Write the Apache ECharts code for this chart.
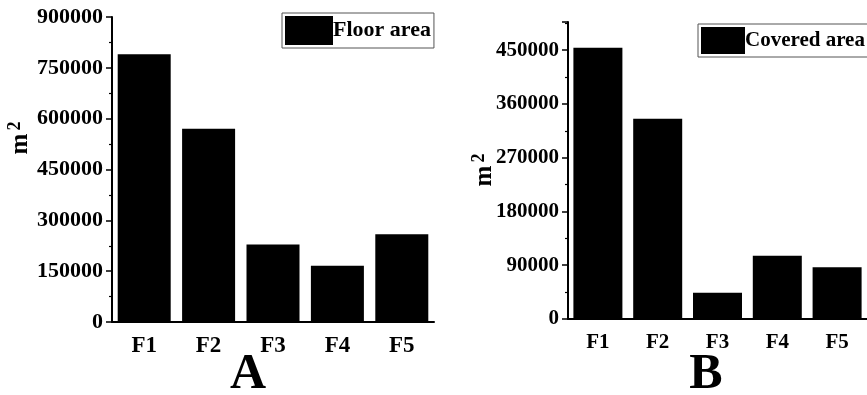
<!DOCTYPE html>
<html>
<head>
<meta charset="utf-8">
<script src="https://cdn.jsdelivr.net/npm/echarts@6/dist/echarts.min.js"></script>
<style>html,body{margin:0;padding:0;background:#fff}#c{width:867px;height:395px}</style>
</head>
<body>
<div id="c"></div>
<script>
var categories = ['F1', 'F2', 'F3', 'F4', 'F5'];
var floorArea = [790000, 570000, 229000, 166000, 259000];
var coveredArea = [454000, 335000, 44000, 106000, 86500];
var ticksA = [0, 150000, 300000, 450000, 600000, 750000, 900000];
var ticksB = [0, 90000, 180000, 270000, 360000, 450000];

var FONT = '"Liberation Serif", "Times New Roman", serif';
var chart = echarts.init(document.getElementById('c'), null, {renderer: 'canvas'});

function xAxisMain(gi, fs, margin) {
  return {
    type: 'category', gridIndex: gi, data: categories,
    axisLine: {lineStyle: {color: '#000', width: 2}},
    axisTick: {alignWithLabel: true, length: 6, lineStyle: {color: '#000', width: 1.5}},
    axisLabel: {color: '#000', fontFamily: FONT, fontWeight: 'bold', fontSize: fs, margin: margin}
  };
}
function xAxisMinor(gi) {
  return {
    type: 'category', gridIndex: gi, data: categories, position: 'bottom',
    axisLine: {show: false},
    axisTick: {alignWithLabel: false, length: 3, lineStyle: {color: '#000', width: 1.2}},
    axisLabel: {show: false}
  };
}
function yAxis(gi, max, interval, fs, margin) {
  return {
    type: 'value', gridIndex: gi, min: 0, max: max, interval: interval,
    splitLine: {show: false},
    axisLine: {show: true, lineStyle: {color: '#000', width: 2}},
    axisTick: {show: true, length: 6, lineStyle: {color: '#000', width: 1.5}},
    minorTick: {show: true, splitNumber: 2, length: 3, lineStyle: {color: '#000', width: 1.2}},
    axisLabel: {color: '#000', fontFamily: FONT, fontWeight: 'bold', fontSize: fs, margin: margin,
                showMaxLabel: true, formatter: function (v) { return String(v); }}
  };
}

var yA = yAxis(0, ticksA[ticksA.length - 1], ticksA[1] - ticksA[0], 22, 9);
var yB = yAxis(1, 497000, ticksB[1] - ticksB[0], 21, 9);
yB.axisLabel.showMaxLabel = false;

var option = {
  animation: false,
  backgroundColor: '#fff',
  grid: [
    {left: 112, top: 17, width: 322, height: 305},
    {left: 568, top: 22, width: 300, height: 297}
  ],
  xAxis: [xAxisMain(0, 23, 13), xAxisMain(1, 21, 13), xAxisMinor(0), xAxisMinor(1)],
  yAxis: [yA, yB],
  legend: [
    {
      left: 282, top: 13, orient: 'vertical',
      data: ['Floor area'],
      itemWidth: 48, itemHeight: 29, itemGap: 0,
      padding: [3, 3, 3, 3],
      borderColor: '#555', borderWidth: 1,
      icon: 'rect',
      textStyle: {color: '#000', fontFamily: FONT, fontWeight: 'bold', fontSize: 22, padding: [0, 0, 0, -5]}
    },
    {
      left: 698, top: 24, orient: 'vertical',
      data: ['Covered area'],
      itemWidth: 44, itemHeight: 27, itemGap: 0,
      padding: [3, 3, 3, 3],
      borderColor: '#555', borderWidth: 1,
      icon: 'rect',
      textStyle: {color: '#000', fontFamily: FONT, fontWeight: 'bold', fontSize: 21, padding: [0, 0, 0, -5]}
    }
  ],
  series: [
    {
      name: 'Floor area', type: 'bar', xAxisIndex: 0, yAxisIndex: 0,
      data: floorArea, barWidth: 53,
      itemStyle: {color: '#000'}
    },
    {
      name: 'Covered area', type: 'bar', xAxisIndex: 1, yAxisIndex: 1,
      data: coveredArea, barWidth: 49,
      itemStyle: {color: '#000'}
    }
  ],
  graphic: [
    {type: 'text', x: 21, y: 144, rotation: Math.PI / 2,
     style: {text: 'm', fill: '#000', font: 'bold 25px ' + FONT, textAlign: 'center', textVerticalAlign: 'middle'}},
    {type: 'text', x: 15, y: 126, rotation: Math.PI / 2,
     style: {text: '2', fill: '#000', font: 'bold 18px ' + FONT, textAlign: 'center', textVerticalAlign: 'middle'}},
    {type: 'text', x: 485, y: 176, rotation: Math.PI / 2,
     style: {text: 'm', fill: '#000', font: 'bold 25px ' + FONT, textAlign: 'center', textVerticalAlign: 'middle'}},
    {type: 'text', x: 479, y: 158, rotation: Math.PI / 2,
     style: {text: '2', fill: '#000', font: 'bold 18px ' + FONT, textAlign: 'center', textVerticalAlign: 'middle'}},
    {type: 'text', x: 248, y: 375,
     style: {text: 'A', fill: '#000', font: 'bold 50px ' + FONT, textAlign: 'center', textVerticalAlign: 'middle'}},
    {type: 'text', x: 706, y: 375,
     style: {text: 'B', fill: '#000', font: 'bold 50px ' + FONT, textAlign: 'center', textVerticalAlign: 'middle'}}
  ]
};
chart.setOption(option);
</script>
</body>
</html>
